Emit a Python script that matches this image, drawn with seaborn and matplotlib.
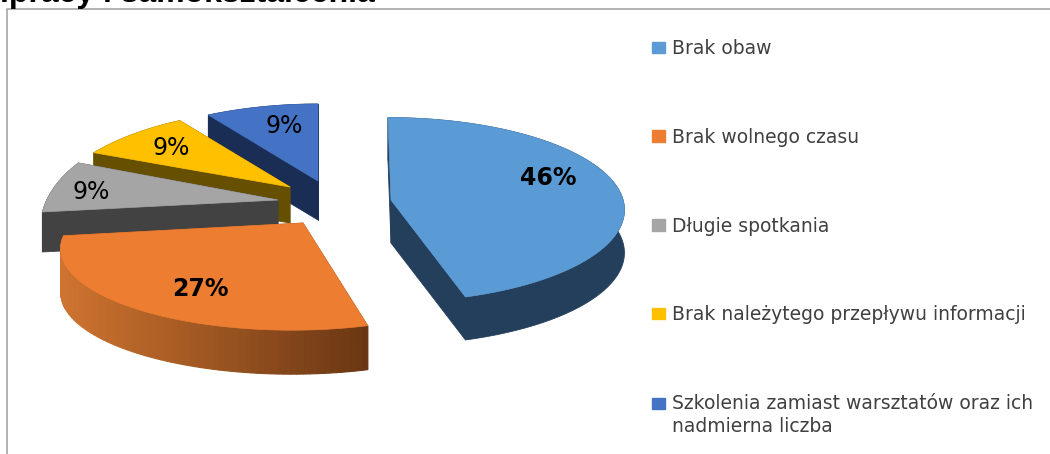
import numpy as np
import matplotlib
matplotlib.use("Agg")
import matplotlib.pyplot as plt
import matplotlib.colors as mcolors
from matplotlib.patches import Patch
import seaborn as sns

# Data
categories = ["Brak obaw", "Brak wolnego czasu", "Długie spotkania",
              "Brak należytego przepływu informacji",
              "Szkolenia zamiast warsztatów oraz ich\nnadmierna liczba"]
values = [46, 27, 9, 9, 9]
labels = ["46%", "27%", "9%", "9%", "9%"]
title_fragment = "ıpracy i samokształcenia"

top_colors = ["#5b9bd5", "#ed7d31", "#a5a5a5", "#ffc000", "#4472c4"]
wall_colors = ["#243f5c", "#8f4c1e", "#424242", "#665000", "#1a2d54"]

# Layout per slice, in figure pixels (cx, cy, rx, ry, apex_x, apex_y, depth)
P = 0.28
geom = [
    (388, 184, 227, 85, 391, 200, 43),
    (292, 226, 222, 75, 303, 223, 44),
    (211, 199.5, 164, 96, 278, 200, 40),
    (279, 193, 229, 106, 290, 187, 36),
    (318, 191.5, 253, 112, 318, 181, 39),
]
label_pos = [(548, 178), (200, 289), (91, 192), (171, 148), (284, 126)]
label_weight = ["bold", "bold", "normal", "normal", "normal"]
draw_order = [4, 3, 2, 1, 0]

sns.set_theme(style="white")
plt.rcParams["font.family"] = ["DejaVu Sans"]

fig = plt.figure(figsize=(10.5, 4.54), dpi=100, facecolor="white")
ax = fig.add_axes([0, 0, 1, 1])
ax.set_xlim(0, 1050)
ax.set_ylim(454, 0)
ax.axis("off")

# Slice angles, clockwise from 12 o'clock, from the values
shares = np.array(values, dtype=float) / np.sum(values) * 360
ends = np.cumsum(shares)
starts = ends - shares


def arc(i, n=80):
    cx, cy, rx, ry, *_ = geom[i]
    t = np.radians(np.linspace(starts[i], ends[i], n))
    s = 1 / (1 + P * np.cos(t))
    return cx + rx * np.sin(t) * s, cy - ry * np.cos(t) * s


for i in draw_order:
    x, y = arc(i)
    ax_, ay_, d = geom[i][4], geom[i][5], geom[i][6]
    z = 2 + draw_order.index(i) * 2
    # Radial cut faces
    for ex, ey in ((x[0], y[0]), (x[-1], y[-1])):
        ax.fill([ax_, ex, ex, ax_], [ay_, ey, ey + d, ay_ + d],
                color=wall_colors[i], lw=0.6, zorder=z)
    # Outer rim
    if i == 1:
        for j in range(len(x) - 1):
            f = (x[j] - x.min()) / (x.max() - x.min())
            c = mcolors.to_hex((1 - f) * np.array(mcolors.to_rgb("#cf7430"))
                               + f * np.array(mcolors.to_rgb("#6b3713")))
            ax.fill([x[j], x[j + 1], x[j + 1], x[j]],
                    [y[j], y[j + 1], y[j + 1] + d, y[j] + d],
                    color=c, lw=0.8, zorder=z)
    else:
        ax.fill(np.r_[x, x[::-1]], np.r_[y, y[::-1] + d],
                color=wall_colors[i], lw=0.6, zorder=z)
    ax.fill(np.r_[ax_, x], np.r_[ay_, y], color=top_colors[i], lw=0.5, zorder=z + 1)

for (lx, ly), t, w in zip(label_pos, labels, label_weight):
    ax.text(lx, ly, t, ha="center", va="center", fontsize=17, fontweight=w,
            color="black", zorder=30)

# Frame
ax.plot([7, 7, 1050], [454, 9, 9], color="#a6a6a6", lw=1.2, zorder=1)

# Heading cropped by the top edge, as in the reference
ax.text(0, 2, title_fragment, ha="left", va="baseline", fontsize=23, fontweight="bold",
        family="Liberation Sans", color="black", zorder=31)

# Legend
handles = [Patch(color=c) for c in top_colors]
leg = ax.legend(handles, categories, loc="upper left",
                bbox_to_anchor=(652 / 1050, 1 - 39 / 454),
                frameon=False, fontsize=13.5, labelcolor="#404040",
                handlelength=0.7, handleheight=0.56, handletextpad=0.38,
                labelspacing=3.72, borderpad=0, borderaxespad=0)
leg.get_texts()[4].set_linespacing(1.3)
# First line of the two-line entry carries the marker
h = leg.legend_handles[4]
h.set_y(h.get_y() + 9)

fig.savefig("out.png", dpi=100)
